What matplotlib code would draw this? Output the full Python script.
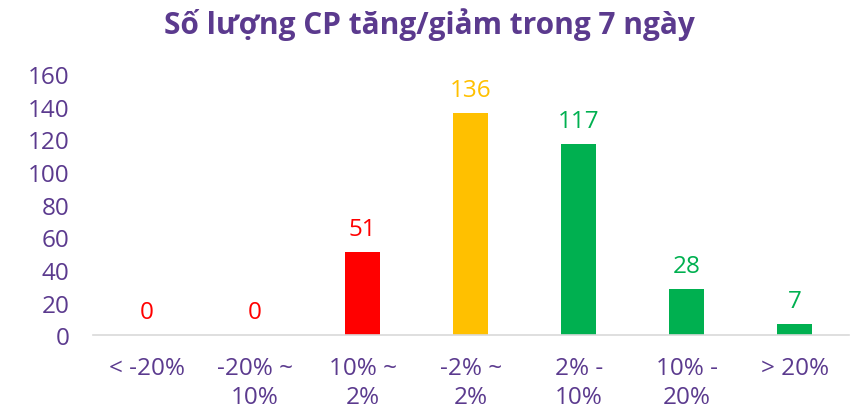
import matplotlib.pyplot as plt

categories = ["< -20%", "-20% ~\n10%", "10% ~\n2%", "-2% ~\n2%", "2% -\n10%", "10% -\n20%", "> 20%"]
values = [0, 0, 51, 136, 117, 28, 7]
bar_colors = ["#FF0000", "#FF0000", "#FF0000", "#FFC000", "#00B050", "#00B050", "#00B050"]
yticks = [0, 20, 40, 60, 80, 100, 120, 140, 160]

purple = "#5B3A8E"
plt.rcParams["font.family"] = ["Open Sans", "DejaVu Sans"]

fig = plt.figure(figsize=(8.59, 4.10), dpi=100)
ax = fig.add_axes([0.108, 0.180, 0.880, 0.637])

x = range(len(categories))
bars = ax.bar(x, values, width=0.32, color=bar_colors)
for b, v, c in zip(bars, values, bar_colors):
    ax.annotate(str(v), (b.get_x() + b.get_width() / 2, v), xytext=(0, 8),
                textcoords="offset points", ha="center", va="bottom",
                fontsize=17.5, color=c)

ax.set_xlim(-0.5, 6.5)
ax.set_ylim(0, 160)
ax.set_yticks(yticks)
ax.set_xticks(list(x))
ax.set_xticklabels(categories, color=purple, fontsize=17.5, va="top", linespacing=1.25)
ax.tick_params(axis="y", colors=purple, labelsize=17.5, length=0, pad=17)
ax.tick_params(axis="x", length=0, pad=15)
for t in ax.get_yticklabels():
    t.set_color(purple)

for s in ["top", "right", "left"]:
    ax.spines[s].set_visible(False)
ax.spines["bottom"].set_color("#D9D9D9")
ax.spines["bottom"].set_linewidth(1.2)

fig.suptitle("Số lượng CP tăng/giảm trong 7 ngày", x=0.5, y=0.98, va="top",
             fontsize=21.5, fontweight="bold", color=purple)

fig.savefig("out.png", dpi=100)
